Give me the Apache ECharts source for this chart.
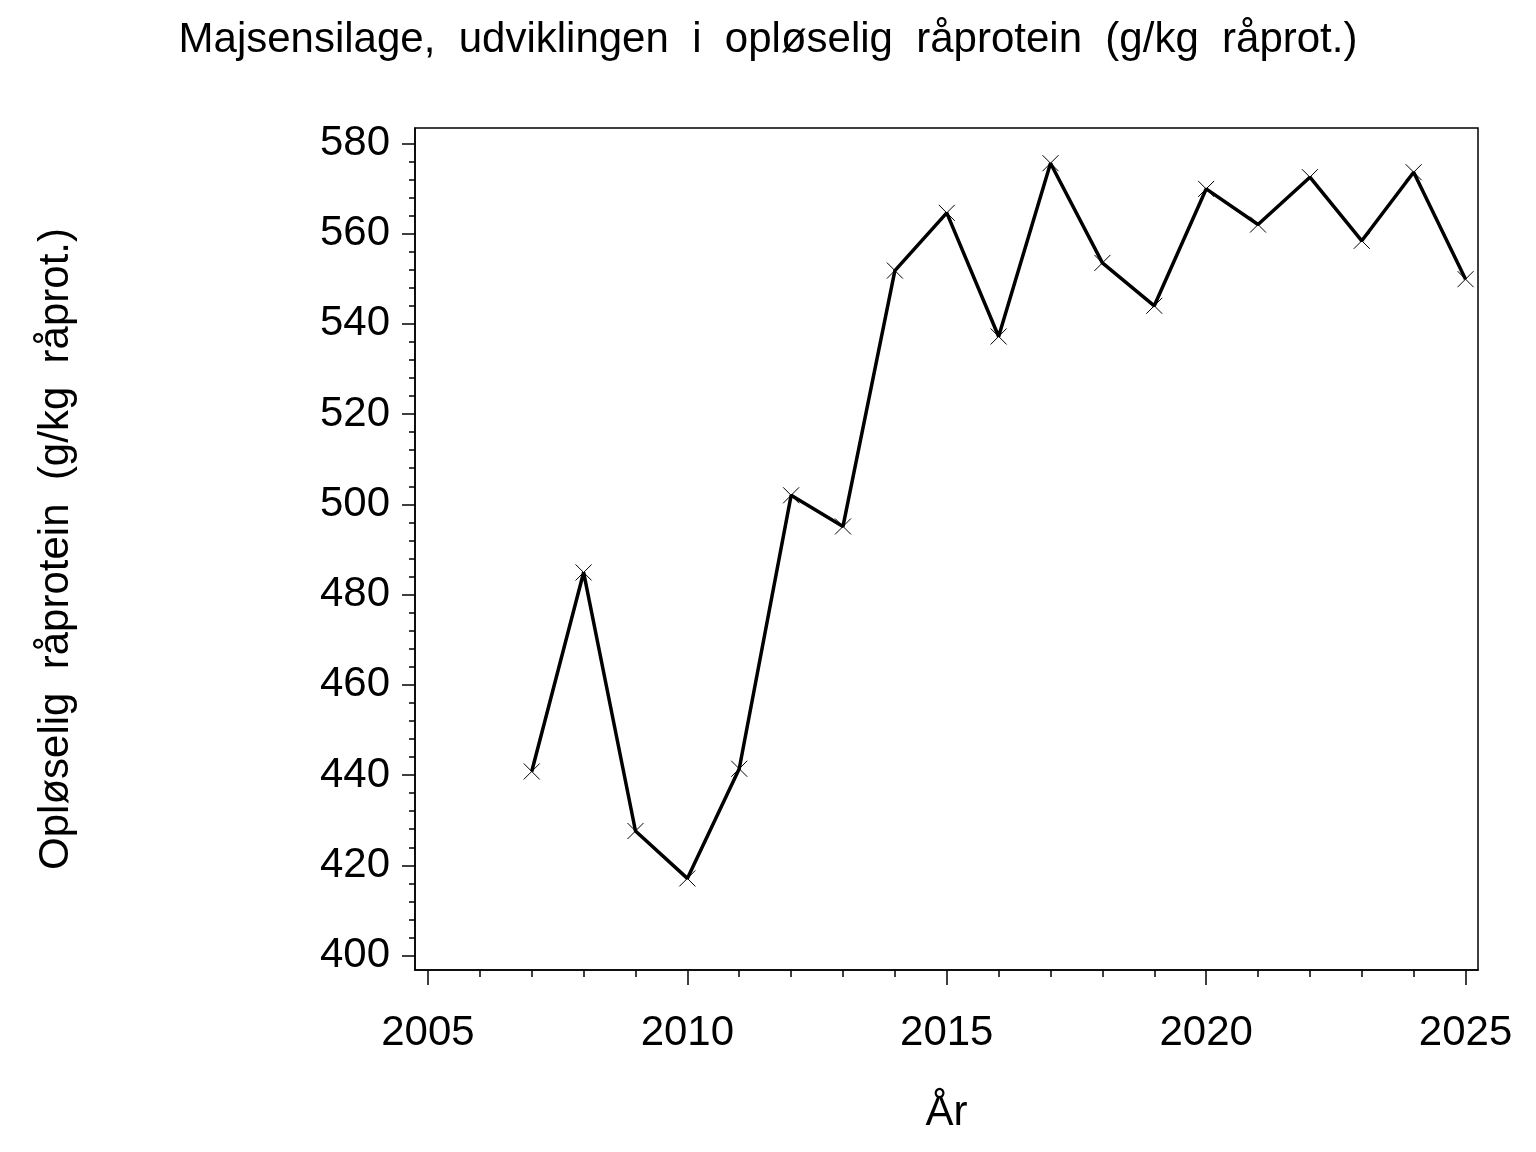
<!DOCTYPE html>
<html>
<head>
<meta charset="utf-8">
<script src="https://cdn.jsdelivr.net/npm/echarts@6/dist/echarts.min.js"></script>
<style>
  html, body { margin: 0; padding: 0; background: #fff; }
  #chart { width: 1536px; height: 1152px; }
</style>
</head>
<body>
<div id="chart"></div>
<script>
// data
var years = [2007, 2008, 2009, 2010, 2011, 2012, 2013, 2014, 2015, 2016, 2017, 2018, 2019, 2020, 2021, 2022, 2023, 2024, 2025]
var values = [440.8, 484.9, 427.6, 417.1, 441.4, 502.0, 495.1, 551.8, 564.6, 537.2, 575.6, 553.5, 544.0, 569.9, 562.0, 572.5, 558.4, 573.6, 549.9]

var xTicks = [2005, 2010, 2015, 2020, 2025]
var xMinor = [2005, 2006, 2007, 2008, 2009, 2010, 2011, 2012, 2013, 2014, 2015, 2016, 2017, 2018, 2019, 2020, 2021, 2022, 2023, 2024, 2025]
var yTicks = [400, 420, 440, 460, 480, 500, 520, 540, 560, 580]
var yMinor = []
for (var v = 400; v <= 580; v += 4) yMinor.push(v)

var font = '"Liberation Sans", Arial, sans-serif'
var xMin = 2004.75, xMax = 2025.24
var yMin = 396.8, yMax = 583.4

var myChart = echarts.init(document.getElementById('chart'))
var option = {
  backgroundColor: '#fff',
  animation: false,
  title: {
    text: 'Majsensilage,  udviklingen  i  opløselig  råprotein  (g/kg  råprot.)',
    left: 'center',
    top: 14,
    textStyle: { fontFamily: font, fontSize: 42, fontWeight: 'normal', color: '#000' }
  },
  grid: {
    left: 415, right: 58, top: 128, bottom: 182,
    outerBoundsMode: 'none',
    containLabel: false,
    show: true, borderColor: '#000', borderWidth: 1.5, backgroundColor: 'transparent'
  },
  xAxis: [{
    type: 'value', min: xMin, max: xMax,
    name: 'År', nameLocation: 'middle', nameGap: 122,
    nameTextStyle: { fontFamily: font, fontSize: 42, color: '#000' },
    axisLine: { show: true, lineStyle: { color: '#000', width: 1.5 } },
    axisTick: { show: true, customValues: xTicks, length: 15, inside: false, lineStyle: { color: '#000', width: 1.5 } },
    axisLabel: {
      customValues: xTicks, margin: 42, fontFamily: font, fontSize: 42, color: '#000',
      formatter: function (val) { return String(val) }
    },
    splitLine: { show: false }
  }, {
    type: 'value', min: xMin, max: xMax, position: 'bottom',
    axisLine: { show: false },
    axisTick: { show: true, customValues: xMinor, length: 7, lineStyle: { color: '#000', width: 1.5 } },
    axisLabel: { show: false },
    splitLine: { show: false }
  }],
  yAxis: [{
    type: 'value', min: yMin, max: yMax,
    name: 'Opløselig  råprotein  (g/kg  råprot.)', nameLocation: 'middle', nameGap: 338, nameRotate: 90,
    nameTextStyle: { fontFamily: font, fontSize: 42, color: '#000' },
    axisLine: { show: true, lineStyle: { color: '#000', width: 1.5 } },
    axisTick: { show: true, customValues: yTicks, length: 13, lineStyle: { color: '#000', width: 1.5 } },
    axisLabel: {
      customValues: yTicks, margin: 25, fontFamily: font, fontSize: 42, color: '#000',
      formatter: function (val) { return String(val) }
    },
    splitLine: { show: false }
  }, {
    type: 'value', min: yMin, max: yMax, position: 'left',
    axisLine: { show: false },
    axisTick: { show: true, customValues: yMinor, length: 6, lineStyle: { color: '#000', width: 1.5 } },
    axisLabel: { show: false },
    splitLine: { show: false }
  }],
  series: [{
    type: 'line',
    xAxisIndex: 0,
    yAxisIndex: 0,
    data: years.map(function (y, i) { return [y, values[i]] }),
    lineStyle: { color: '#000', width: 3.5 },
    symbol: 'path://M0,0L10,10M10,0L0,10',
    symbolSize: 16,
    showAllSymbol: true,
    itemStyle: { color: 'transparent', borderColor: '#000', borderWidth: 1 }
  }]
}
myChart.setOption(option)
</script>
</body>
</html>
